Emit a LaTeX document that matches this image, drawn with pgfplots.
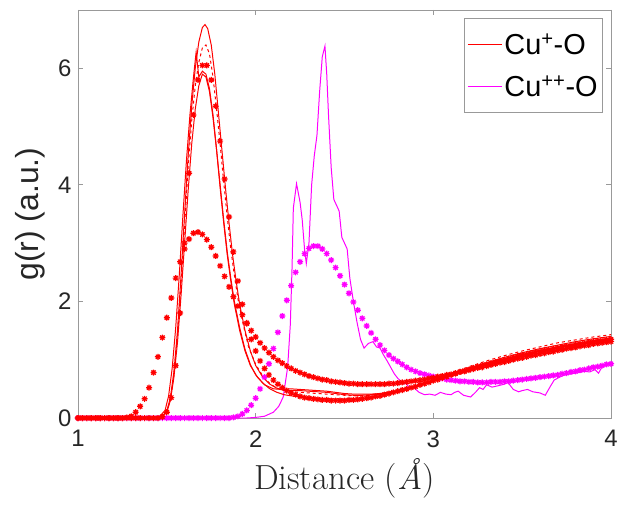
\documentclass[border=0pt]{standalone}
\usepackage{pgfplots}
\pgfplotsset{compat=1.18}
\usepackage{fontspec}
\newfontfamily\arial{Liberation Sans}
\definecolor{axgray}{gray}{0.6}
\definecolor{txt}{gray}{0.15}
\definecolor{mred}{rgb}{1,0,0}
\definecolor{mmag}{rgb}{1,0,1}
\pgfdeclareplotmark{mstar}{%
 \pgfpathmoveto{\pgfqpoint{-\pgfplotmarksize}{0pt}}\pgfpathlineto{\pgfqpoint{\pgfplotmarksize}{0pt}}%
 \pgfpathmoveto{\pgfqpoint{0pt}{-\pgfplotmarksize}}\pgfpathlineto{\pgfqpoint{0pt}{\pgfplotmarksize}}%
 \pgfpathmoveto{\pgfqpoint{-.707\pgfplotmarksize}{-.707\pgfplotmarksize}}\pgfpathlineto{\pgfqpoint{.707\pgfplotmarksize}{.707\pgfplotmarksize}}%
 \pgfpathmoveto{\pgfqpoint{-.707\pgfplotmarksize}{.707\pgfplotmarksize}}\pgfpathlineto{\pgfqpoint{.707\pgfplotmarksize}{-.707\pgfplotmarksize}}%
 \pgfusepathqstroke}
\begin{document}
\begin{tikzpicture}
\begin{axis}[name=ax,
  scale only axis, width=533bp, height=408bp,
  xmin=1, xmax=4, ymin=0, ymax=7,
  xtick={1,2,3,4}, ytick={0,2,4,6},
  tick align=inside, major tick length=5bp,
  axis line style={axgray, line width=0.8pt},
  every tick/.style={axgray, line width=0.8pt},
  /pgf/number format/assume math mode=true,
  tick label style={font=\arial\fontsize{24}{28}\selectfont, text=txt},
  xticklabel style={yshift=-9bp},
  yticklabel style={xshift=-3bp},
  xlabel={Distance (\textit{\AA})},
  xlabel style={font=\fontsize{35}{40}\selectfont, text=txt, yshift=-4bp},
  ylabel={g(r) (a.u.)},
  ylabel style={font=\arial\fontsize{32}{36}\selectfont, text=txt, yshift=6bp},
  legend style={at={(0.985,0.98)}, anchor=north east, draw=axgray, line width=0.8pt,
    font=\arial\fontsize{29}{33}\selectfont, text=black, inner xsep=3bp, inner ysep=13bp,
    row sep=16bp},
  legend cell align=left,
  legend image code/.code={\draw[#1, line width=1pt] (0bp,0bp) -- (34bp,0bp);},
  clip=true,
]
\addlegendimage{color=mred}
\addlegendentry{Cu\textsuperscript{+}-O}
\addlegendimage{color=mmag}
\addlegendentry{Cu\textsuperscript{++}-O}

% magenta stars (H)
\addplot[forget plot, only marks, mmag, mark=mstar, mark size=3bp, mark options={line width=1.2pt}] coordinates {
(1.000,0)(1.025,0)(1.050,0)(1.075,0)(1.100,0)(1.125,0)(1.150,0)(1.175,0)(1.200,0)(1.225,0)(1.250,0)(1.275,0)(1.300,0)(1.325,0)(1.350,0)(1.375,0)(1.400,0)(1.425,0)(1.450,0)(1.475,0)(1.500,0)(1.525,0)(1.550,0)(1.575,0)(1.600,0)(1.625,0)(1.650,0)(1.675,0)(1.700,0)(1.725,0)(1.750,0)(1.775,0)(1.800,0)(1.825,0)(1.850,0)
(1.875,0.01)(1.900,0.03)(1.925,0.07)(1.950,0.13)(1.975,0.22)(2.000,0.34)(2.025,0.50)(2.050,0.70)(2.075,0.93)(2.100,1.19)(2.125,1.47)(2.150,1.75)(2.175,2.02)(2.200,2.27)(2.225,2.50)(2.250,2.68)(2.275,2.82)(2.300,2.91)(2.325,2.95)(2.350,2.95)(2.375,2.90)(2.400,2.82)(2.425,2.71)(2.450,2.58)(2.475,2.44)(2.500,2.29)(2.525,2.14)(2.550,1.99)(2.575,1.85)(2.600,1.71)(2.625,1.58)(2.650,1.46)(2.675,1.35)(2.700,1.25)(2.725,1.16)(2.750,1.08)(2.775,1.02)(2.800,0.97)(2.825,0.92)(2.850,0.87)(2.875,0.83)(2.900,0.80)(2.925,0.77)(2.950,0.75)(2.975,0.73)(3.000,0.71)(3.025,0.69)(3.050,0.68)(3.075,0.66)(3.100,0.65)(3.125,0.64)(3.150,0.63)(3.175,0.63)(3.200,0.62)(3.225,0.62)(3.250,0.61)(3.275,0.61)(3.300,0.61)(3.325,0.62)(3.350,0.62)(3.375,0.62)(3.400,0.63)(3.425,0.63)(3.450,0.64)(3.475,0.65)(3.500,0.66)(3.525,0.67)(3.550,0.68)(3.575,0.69)(3.600,0.70)(3.625,0.71)(3.650,0.72)(3.675,0.73)(3.700,0.74)(3.725,0.76)(3.750,0.77)(3.775,0.79)(3.800,0.80)(3.825,0.82)(3.850,0.83)(3.875,0.85)(3.900,0.87)(3.925,0.88)(3.950,0.90)(3.975,0.92)(4.000,0.93)
};
% magenta line (G)
\addplot[forget plot, mmag, line width=1pt] coordinates {
(1.0,0)(1.95,0)(2.00,0.01)(2.05,0.03)(2.10,0.1)(2.13,0.2)(2.155,0.36)(2.18,0.87)(2.195,1.6)(2.205,2.6)(2.212,3.6)(2.23,4.02)(2.25,3.7)(2.262,3.4)(2.275,2.9)(2.285,2.65)(2.30,3.0)(2.315,4.0)(2.33,4.5)(2.345,4.85)(2.36,5.6)(2.375,6.2)(2.39,6.38)(2.40,5.9)(2.41,5.2)(2.425,4.3)(2.44,3.75)(2.455,3.65)(2.47,3.55)(2.485,3.1)(2.50,3.0)(2.515,2.9)(2.53,2.4)(2.55,2.0)(2.57,1.65)(2.59,1.35)(2.61,1.2)(2.635,1.28)(2.66,1.31)(2.68,1.22)(2.70,1.2)(2.72,1.08)(2.74,0.98)(2.76,0.87)(2.78,0.76)(2.80,0.68)(2.83,0.6)(2.85,0.58)(2.87,0.5)(2.89,0.52)(2.92,0.44)(2.95,0.40)(2.98,0.41)(3.01,0.39)(3.04,0.44)(3.07,0.41)(3.10,0.40)(3.12,0.44)(3.14,0.46)(3.17,0.39)(3.21,0.36)(3.24,0.45)(3.26,0.52)(3.28,0.49)(3.30,0.57)(3.33,0.53)(3.36,0.55)(3.40,0.58)(3.42,0.61)(3.45,0.49)(3.48,0.45)(3.50,0.47)(3.53,0.49)(3.56,0.45)(3.60,0.43)(3.63,0.39)(3.66,0.55)(3.68,0.65)(3.71,0.70)(3.74,0.74)(3.78,0.76)(3.82,0.78)(3.85,0.80)(3.88,0.79)(3.91,0.83)(3.93,0.77)(3.95,0.88)(3.98,0.91)(4.00,0.94)
};
% red broad stars (F)
\addplot[forget plot, only marks, mred, mark=mstar, mark size=3bp, mark options={line width=1.2pt}] coordinates {
(1.000,0)(1.025,0)(1.050,0)(1.075,0)(1.100,0)(1.125,0)(1.150,0)(1.175,0)(1.200,0)(1.225,0)(1.250,0)
(1.275,0.01)(1.300,0.03)(1.325,0.10)(1.350,0.20)(1.375,0.33)(1.400,0.52)(1.425,0.78)(1.450,1.05)(1.475,1.38)(1.500,1.72)(1.525,2.06)(1.550,2.40)(1.575,2.68)(1.600,2.90)(1.625,3.07)(1.650,3.17)(1.675,3.19)(1.700,3.15)(1.725,3.06)(1.750,2.93)(1.775,2.78)(1.800,2.61)(1.825,2.43)(1.850,2.25)(1.875,2.08)(1.900,1.92)(1.925,1.77)(1.950,1.63)(1.975,1.50)(2.000,1.39)(2.025,1.29)(2.050,1.20)(2.075,1.12)(2.100,1.05)(2.125,0.99)(2.150,0.94)(2.175,0.89)(2.200,0.85)(2.225,0.81)(2.250,0.78)(2.275,0.75)(2.300,0.72)(2.325,0.70)(2.350,0.68)(2.375,0.66)(2.400,0.65)(2.425,0.63)(2.450,0.62)(2.475,0.61)(2.500,0.60)(2.525,0.59)(2.550,0.59)(2.575,0.58)(2.600,0.58)(2.625,0.58)(2.650,0.58)(2.675,0.58)(2.700,0.58)(2.725,0.58)(2.750,0.59)(2.775,0.59)(2.800,0.60)(2.825,0.61)(2.850,0.62)(2.875,0.63)(2.900,0.64)(2.925,0.65)(2.950,0.66)(2.975,0.68)(3.000,0.69)(3.025,0.71)(3.050,0.72)(3.075,0.74)(3.100,0.75)(3.125,0.77)(3.150,0.79)(3.175,0.80)(3.200,0.82)(3.225,0.84)(3.250,0.86)(3.275,0.87)(3.300,0.89)(3.325,0.91)(3.350,0.93)(3.375,0.95)(3.400,0.96)(3.425,0.98)(3.450,1.00)(3.475,1.02)(3.500,1.03)(3.525,1.05)(3.550,1.07)(3.575,1.08)(3.600,1.10)(3.625,1.11)(3.650,1.13)(3.675,1.14)(3.700,1.16)(3.725,1.17)(3.750,1.19)(3.775,1.20)(3.800,1.21)(3.825,1.23)(3.850,1.24)(3.875,1.25)(3.900,1.27)(3.925,1.28)(3.950,1.29)(3.975,1.30)(4.000,1.31)
};
% red stars tall (D)
\addplot[forget plot, only marks, mred, mark=mstar, mark size=3bp, mark options={line width=1.2pt}] coordinates {
(1.000,0)(1.025,0)(1.050,0)(1.075,0)(1.100,0)(1.125,0)(1.150,0)(1.175,0)(1.200,0)(1.225,0)(1.250,0)(1.275,0)(1.300,0)(1.325,0)(1.350,0)(1.375,0)(1.400,0)(1.425,0)(1.450,0)
(1.475,0.02)(1.500,0.10)(1.525,0.35)(1.550,0.90)(1.575,1.80)(1.600,3.00)(1.625,4.20)(1.650,5.20)(1.675,5.80)(1.700,6.05)(1.725,6.05)(1.750,5.80)(1.775,5.35)(1.800,4.75)(1.825,4.10)(1.850,3.45)(1.875,2.85)(1.900,2.35)(1.925,1.95)(1.950,1.62)(1.975,1.35)(2.000,1.15)(2.025,0.98)(2.050,0.85)(2.075,0.74)(2.100,0.65)(2.125,0.58)(2.150,0.52)(2.175,0.47)(2.200,0.43)(2.225,0.40)(2.250,0.37)(2.275,0.35)(2.300,0.34)(2.325,0.33)(2.350,0.32)(2.375,0.31)(2.400,0.31)(2.425,0.30)(2.450,0.30)(2.475,0.30)(2.500,0.30)(2.525,0.31)(2.550,0.31)(2.575,0.32)(2.600,0.33)(2.625,0.34)(2.650,0.35)(2.675,0.37)(2.700,0.38)(2.725,0.40)(2.750,0.42)(2.775,0.44)(2.800,0.46)(2.825,0.48)(2.850,0.50)(2.875,0.52)(2.900,0.54)(2.925,0.57)(2.950,0.59)(2.975,0.61)(3.000,0.64)(3.025,0.66)(3.050,0.69)(3.075,0.71)(3.100,0.74)(3.125,0.76)(3.150,0.79)(3.175,0.81)(3.200,0.83)(3.225,0.86)(3.250,0.88)(3.275,0.90)(3.300,0.92)(3.325,0.94)(3.350,0.96)(3.375,0.98)(3.400,1.00)(3.425,1.02)(3.450,1.04)(3.475,1.06)(3.500,1.08)(3.525,1.09)(3.550,1.11)(3.575,1.13)(3.600,1.14)(3.625,1.16)(3.650,1.17)(3.675,1.19)(3.700,1.20)(3.725,1.22)(3.750,1.23)(3.775,1.24)(3.800,1.26)(3.825,1.27)(3.850,1.28)(3.875,1.30)(3.900,1.31)(3.925,1.32)(3.950,1.33)(3.975,1.34)(4.000,1.35)
};
% red solid A
\addplot[forget plot, mred, line width=1pt] coordinates {
(1.0,0)(1.44,0)(1.47,0.02)(1.50,0.12)(1.52,0.35)(1.54,0.8)(1.56,1.5)(1.58,2.45)(1.60,3.5)(1.62,4.5)(1.64,5.35)(1.66,6.0)(1.68,6.45)(1.70,6.7)(1.715,6.75)(1.73,6.68)(1.75,6.4)(1.77,5.9)(1.79,5.25)(1.81,4.6)(1.83,3.95)(1.85,3.35)(1.87,2.8)(1.89,2.35)(1.91,1.95)(1.94,1.5)(1.97,1.15)(2.00,0.9)(2.04,0.7)(2.08,0.58)(2.12,0.51)(2.16,0.48)(2.20,0.47)(2.25,0.47)(2.30,0.46)(2.35,0.45)(2.40,0.44)(2.45,0.42)(2.50,0.40)(2.55,0.39)(2.60,0.39)(2.65,0.40)(2.70,0.41)(2.75,0.44)(2.80,0.47)(2.90,0.55)(3.00,0.65)(3.10,0.76)(3.20,0.86)(3.30,0.95)(3.40,1.04)(3.50,1.12)(3.60,1.19)(3.70,1.25)(3.80,1.31)(3.90,1.36)(4.00,1.40)
};
% red dashed B
\addplot[forget plot, mred, line width=1pt, dashed] coordinates {
(1.0,0)(1.44,0)(1.47,0.02)(1.50,0.11)(1.52,0.33)(1.54,0.75)(1.56,1.4)(1.58,2.3)(1.60,3.3)(1.62,4.3)(1.64,5.1)(1.66,5.7)(1.68,6.1)(1.70,6.35)(1.72,6.4)(1.74,6.25)(1.76,5.85)(1.78,5.3)(1.80,4.7)(1.82,4.05)(1.84,3.45)(1.86,2.9)(1.88,2.45)(1.90,2.05)(1.93,1.6)(1.96,1.22)(2.00,0.92)(2.04,0.72)(2.08,0.59)(2.12,0.51)(2.16,0.47)(2.20,0.45)(2.25,0.44)(2.30,0.43)(2.35,0.42)(2.40,0.41)(2.45,0.40)(2.50,0.39)(2.55,0.38)(2.60,0.38)(2.65,0.39)(2.70,0.41)(2.75,0.43)(2.80,0.46)(2.90,0.55)(3.00,0.66)(3.10,0.77)(3.20,0.88)(3.30,0.98)(3.40,1.07)(3.50,1.15)(3.60,1.22)(3.70,1.29)(3.80,1.34)(3.90,1.39)(4.00,1.43)
};
% red solid C
\addplot[forget plot, mred, line width=1pt] coordinates {
(1.0,0)(1.43,0)(1.46,0.03)(1.49,0.13)(1.51,0.38)(1.53,0.85)(1.55,1.55)(1.57,2.45)(1.59,3.45)(1.61,4.4)(1.63,5.2)(1.65,5.85)(1.665,6.28)(1.68,5.85)(1.70,5.95)(1.72,5.9)(1.74,5.65)(1.76,5.2)(1.78,4.6)(1.80,3.95)(1.82,3.35)(1.84,2.8)(1.86,2.35)(1.88,1.95)(1.91,1.5)(1.94,1.15)(1.97,0.9)(2.01,0.7)(2.05,0.57)(2.10,0.5)(2.15,0.49)(2.20,0.5)(2.25,0.49)(2.30,0.48)(2.35,0.47)(2.40,0.46)(2.45,0.44)(2.50,0.42)(2.55,0.41)(2.60,0.41)(2.65,0.41)(2.70,0.42)(2.80,0.47)(2.90,0.55)(3.00,0.64)(3.10,0.74)(3.20,0.84)(3.30,0.93)(3.40,1.01)(3.50,1.09)(3.60,1.16)(3.70,1.22)(3.80,1.27)(3.90,1.32)(4.00,1.36)
};
% red solid E
\addplot[forget plot, mred, line width=1pt] coordinates {
(1.0,0)(1.44,0)(1.47,0.02)(1.50,0.1)(1.52,0.3)(1.54,0.7)(1.56,1.3)(1.58,2.1)(1.60,3.0)(1.62,3.9)(1.64,4.7)(1.66,5.3)(1.68,5.7)(1.70,5.9)(1.72,5.85)(1.74,5.6)(1.76,5.15)(1.78,4.6)(1.80,4.0)(1.82,3.4)(1.84,2.85)(1.86,2.4)(1.88,2.0)(1.91,1.55)(1.94,1.18)(1.97,0.92)(2.00,0.74)(2.04,0.6)(2.08,0.5)(2.12,0.44)(2.16,0.4)(2.20,0.38)(2.25,0.36)(2.30,0.35)(2.35,0.34)(2.40,0.33)(2.45,0.33)(2.50,0.32)(2.55,0.33)(2.60,0.33)(2.65,0.35)(2.70,0.37)(2.80,0.44)(2.90,0.53)(3.00,0.63)(3.10,0.73)(3.20,0.83)(3.30,0.92)(3.40,1.00)(3.50,1.08)(3.60,1.15)(3.70,1.21)(3.80,1.27)(3.90,1.32)(4.00,1.37)
};
\end{axis}
\pgfresetboundingbox
\path (ax.south west) ++(-78bp,-90bp) rectangle ++(620bp,508bp);
\end{tikzpicture}
\end{document}
